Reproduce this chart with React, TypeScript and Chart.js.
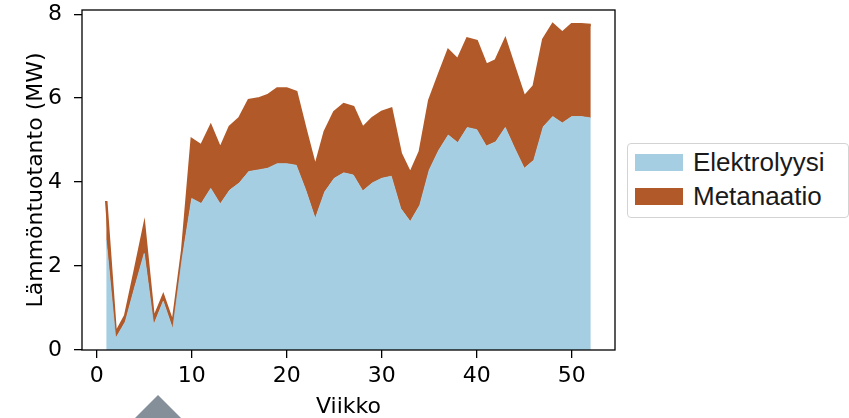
import React, { useEffect, useRef } from "react";
import { Chart, registerables } from "chart.js";

Chart.register(...registerables);

const weeks = [
  1, 2, 3, 4, 5, 6, 7, 8, 9, 10, 11, 12, 13, 14, 15, 16, 17, 18, 19, 20, 21, 22, 23, 24, 25, 26,
  27, 28, 29, 30, 31, 32, 33, 34, 35, 36, 37, 38, 39, 40, 41, 42, 43, 44, 45, 46, 47, 48, 49, 50, 51, 52,
];
const elektrolyysi = [
  2.62, 0.28, 0.67, 1.5, 2.3, 0.6, 1.16, 0.5, 2.2, 3.61, 3.49, 3.85, 3.48, 3.81, 3.98, 4.25, 4.29, 4.33,
  4.44, 4.44, 4.4, 3.81, 3.13, 3.77, 4.09, 4.22, 4.17, 3.79, 3.98, 4.09, 4.14, 3.37, 3.06, 3.45, 4.29,
  4.76, 5.12, 4.94, 5.3, 5.25, 4.86, 4.96, 5.3, 4.8, 4.33, 4.52, 5.32, 5.56, 5.41, 5.56, 5.56, 5.53,
];
const metanaatio = [
  0.93, 0.12, 0.15, 0.38, 0.67, 0.15, 0.14, 0.15, 0.18, 1.41, 1.38, 1.49, 1.32, 1.51, 1.54, 1.7, 1.7, 1.74,
  1.79, 1.79, 1.75, 1.43, 1.24, 1.43, 1.58, 1.64, 1.62, 1.5, 1.54, 1.58, 1.61, 1.31, 1.15, 1.27, 1.66,
  1.79, 2.02, 1.98, 2.12, 2.11, 1.93, 1.94, 2.1, 1.91, 1.7, 1.77, 2.08, 2.2, 2.15, 2.2, 2.2, 2.21,
];
const seriesNames = ["Elektrolyysi", "Metanaatio"];
const seriesColors = ["#a6cee3", "#b15928"];
const xTicks = [0, 10, 20, 30, 40, 50];
const yTicks = [0, 2, 4, 6, 8];
const xTitle = "Viikko";
const yTitle = "Lämmöntuotanto (MW)";

const framePlugin = {
  id: "frame",
  afterDatasetsDraw(chart: any) {
    const { ctx, chartArea } = chart;
    const { left, top, right, bottom } = chartArea;
    ctx.save();
    ctx.strokeStyle = "#000";
    ctx.lineWidth = 1.3;
    ctx.strokeRect(left, top, right - left, bottom - top);
    ctx.restore();
  },
};

const tickFont = { family: "DejaVu Sans", size: 22 };

export default function App() {
  const canvasRef = useRef<HTMLCanvasElement | null>(null);

  useEffect(() => {
    const canvas = canvasRef.current;
    if (!canvas) return;
    const chart = new Chart(canvas, {
      type: "line",
      data: {
        datasets: [
          {
            label: seriesNames[0],
            data: weeks.map((w, i) => ({ x: w, y: elektrolyysi[i] })),
            backgroundColor: seriesColors[0],
            borderColor: seriesColors[0],
            borderWidth: 0.8,
            pointRadius: 0,
            fill: "origin",
            tension: 0,
          },
          {
            label: seriesNames[1],
            data: weeks.map((w, i) => ({ x: w, y: metanaatio[i] })),
            backgroundColor: seriesColors[1],
            borderColor: seriesColors[1],
            borderWidth: 2.5,
            pointRadius: 0,
            fill: "-1",
            tension: 0,
          },
        ],
      },
      options: {
        responsive: false,
        animation: false,
        devicePixelRatio: 1,
        layout: { padding: { left: 0, top: 10, right: 234, bottom: 0 } },
        plugins: { legend: { display: false }, tooltip: { enabled: false } },
        scales: {
          x: {
            type: "linear",
            min: -1.55,
            max: 54.55,
            afterBuildTicks: (s: any) => {
              s.ticks = xTicks.map((v) => ({ value: v }));
            },
            afterFit: (s: any) => {
              s.height = 68;
              s.paddingLeft = 0;
              s.paddingRight = 0;
            },
            grid: {
              display: true,
              drawOnChartArea: false,
              drawTicks: true,
              tickLength: 8,
              color: "#000",
              tickColor: "#000",
              lineWidth: 1.3,
            },
            border: { display: false },
            ticks: {
              font: tickFont,
              color: "#000",
              padding: 5,
              maxRotation: 0,
              autoSkip: false,
              callback: (v: any) => String(v),
            },
            title: {
              display: true,
              text: xTitle,
              color: "#000",
              font: { family: "DejaVu Sans", size: 22, lineHeight: 1 },
              padding: { top: 0, bottom: 0 },
            },
          },
          y: {
            type: "linear",
            stacked: true,
            min: 0,
            max: 8.1,
            afterBuildTicks: (s: any) => {
              s.ticks = yTicks.map((v) => ({ value: v }));
            },
            afterFit: (s: any) => {
              s.width = 82;
              s.paddingTop = 0;
              s.paddingBottom = 0;
            },
            grid: {
              display: true,
              drawOnChartArea: false,
              drawTicks: true,
              tickLength: 8,
              color: "#000",
              tickColor: "#000",
              lineWidth: 1.3,
            },
            border: { display: false },
            ticks: {
              font: tickFont,
              color: "#000",
              padding: 12,
              autoSkip: false,
              callback: (v: any) => String(v),
            },
            title: {
              display: true,
              text: yTitle,
              color: "#000",
              font: { family: "DejaVu Sans", size: 22, lineHeight: 1.2 },
              padding: { top: 23, bottom: 0 },
            },
          },
        },
      },
      plugins: [framePlugin],
    });
    return () => chart.destroy();
  }, []);

  const legendFont = "'Liberation Sans', Arial, sans-serif";

  return (
    <div style={{ position: "absolute", left: 0, top: 0, width: 849, height: 418, overflow: "hidden", background: "#fff" }}>
      <canvas ref={canvasRef} width={849} height={418} style={{ position: "absolute", left: 0, top: 0, width: 849, height: 418 }} />
      <div
        style={{
          position: "absolute",
          left: 627,
          top: 143,
          width: 220,
          height: 73,
          border: "1px solid #d3d3d3",
          borderRadius: 4,
          background: "#fff",
          boxSizing: "content-box",
        }}
      >
        {seriesNames.map((name, i) => (
          <div
            key={name}
            style={{ position: "absolute", left: 7, top: 9 + i * 34, height: 18, display: "flex", alignItems: "center" }}
          >
            <div style={{ width: 48, height: 17, background: seriesColors[i] }} />
            <span
              style={{
                marginLeft: 10,
                fontFamily: legendFont,
                fontSize: 26,
                color: "#1a1a1a",
                lineHeight: "18px",
                whiteSpace: "nowrap",
              }}
            >
              {name}
            </span>
          </div>
        ))}
      </div>
      <svg width={849} height={418} style={{ position: "absolute", left: 0, top: 0, pointerEvents: "none" }}>
        <polygon points="158,395 134,419 182,419" fill="#848f9a" />
      </svg>
    </div>
  );
}
